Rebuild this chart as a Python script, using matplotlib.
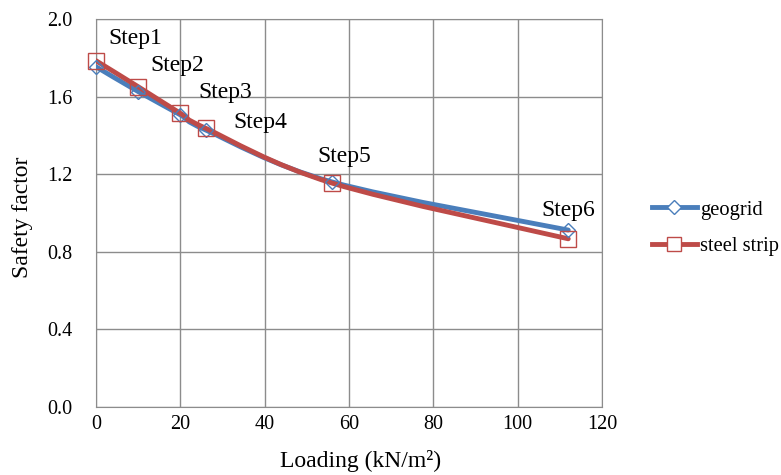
import matplotlib
matplotlib.use('Agg')
import matplotlib.pyplot as plt
from matplotlib.path import Path
from matplotlib.patches import PathPatch
from matplotlib.lines import Line2D

plt.rcParams['font.family'] = ['Liberation Serif', 'DejaVu Serif']

# data
loading = [0, 10, 20, 26, 56, 112]
geogrid = [1.754, 1.626, 1.506, 1.428, 1.160, 0.912]
steel = [1.785, 1.651, 1.514, 1.437, 1.154, 0.867]
steps = ['Step1', 'Step2', 'Step3', 'Step4', 'Step5', 'Step6']
xticks = [0, 20, 40, 60, 80, 100, 120]
yticks = [0.0, 0.4, 0.8, 1.2, 1.6, 2.0]

blue = '#4a7ebb'
red = '#be4b48'


def smooth_path(xs, ys):
    # excel-like smoothed line: catmull-rom segments as bezier curves
    pts = list(zip(xs, ys))
    verts = [pts[0]]
    codes = [Path.MOVETO]
    n = len(pts)
    for i in range(n - 1):
        p0 = pts[i - 1] if i > 0 else pts[i]
        p1 = pts[i]
        p2 = pts[i + 1]
        p3 = pts[i + 2] if i + 2 < n else pts[i + 1]
        c1 = (p1[0] + (p2[0] - p0[0]) / 6, p1[1] + (p2[1] - p0[1]) / 6)
        c2 = (p2[0] - (p3[0] - p1[0]) / 6, p2[1] - (p3[1] - p1[1]) / 6)
        verts += [c1, c2, p2]
        codes += [Path.CURVE4] * 3
    return Path(verts, codes)


fig = plt.figure(figsize=(7.81, 4.75), dpi=100)
ax = fig.add_axes([0.1229, 0.1432, 0.6479, 0.8168])

for ys, col, mk, ms in [(geogrid, blue, 'D', 7.5), (steel, red, 's', 11)]:
    ax.add_patch(PathPatch(smooth_path(loading, ys), fc='none', ec=col,
                           lw=3.5, capstyle='round', zorder=3))
    ax.plot(loading, ys, ls='none', marker=mk, ms=ms, mfc='none', mec=col,
            mew=1.0, zorder=4, clip_on=False)

# step labels
label_pos = [(9.4, 1.902), (19.2, 1.760), (30.6, 1.619),
             (38.9, 1.469), (58.8, 1.289), (112.0, 1.015)]
for s, (tx, ty) in zip(steps, label_pos):
    ax.text(tx, ty, s, fontsize=17, ha='center', va='center', clip_on=False)

ax.set_xlim(0, 120)
ax.set_ylim(0, 2.0)
ax.set_xticks(xticks)
ax.set_yticks(yticks)
ax.set_yticklabels(['%.1f' % v for v in yticks])
ax.grid(True, color='#8c8c8c', lw=1.0)
ax.set_axisbelow(True)
for sp in ax.spines.values():
    sp.set_color('#8c8c8c')
ax.tick_params(length=0, labelsize=14.5)
ax.tick_params(axis='x', pad=6)
ax.tick_params(axis='y', pad=17)
ax.set_xlabel('Loading (kN/m²)', fontsize=17)
ax.set_ylabel('Safety factor', fontsize=17)
ax.xaxis.set_label_coords(0.522, -0.14)
ax.yaxis.set_label_coords(-0.146, 0.49)
ax.xaxis.label.set_va('center')
ax.yaxis.label.set_va('center')

handles = [Line2D([], [], color=blue, lw=3.5, marker='D', ms=7.5, mfc='white', mec=blue),
           Line2D([], [], color=red, lw=3.5, marker='s', ms=10, mfc='white', mec=red)]
fig.legend(handles, ['geogrid', 'steel strip'], loc='center left',
           bbox_to_anchor=(0.816, 0.52), frameon=False, fontsize=14.8,
           handlelength=2.2, handletextpad=0.15, labelspacing=0.82,
           borderpad=0.2)

fig.savefig('out.png')
